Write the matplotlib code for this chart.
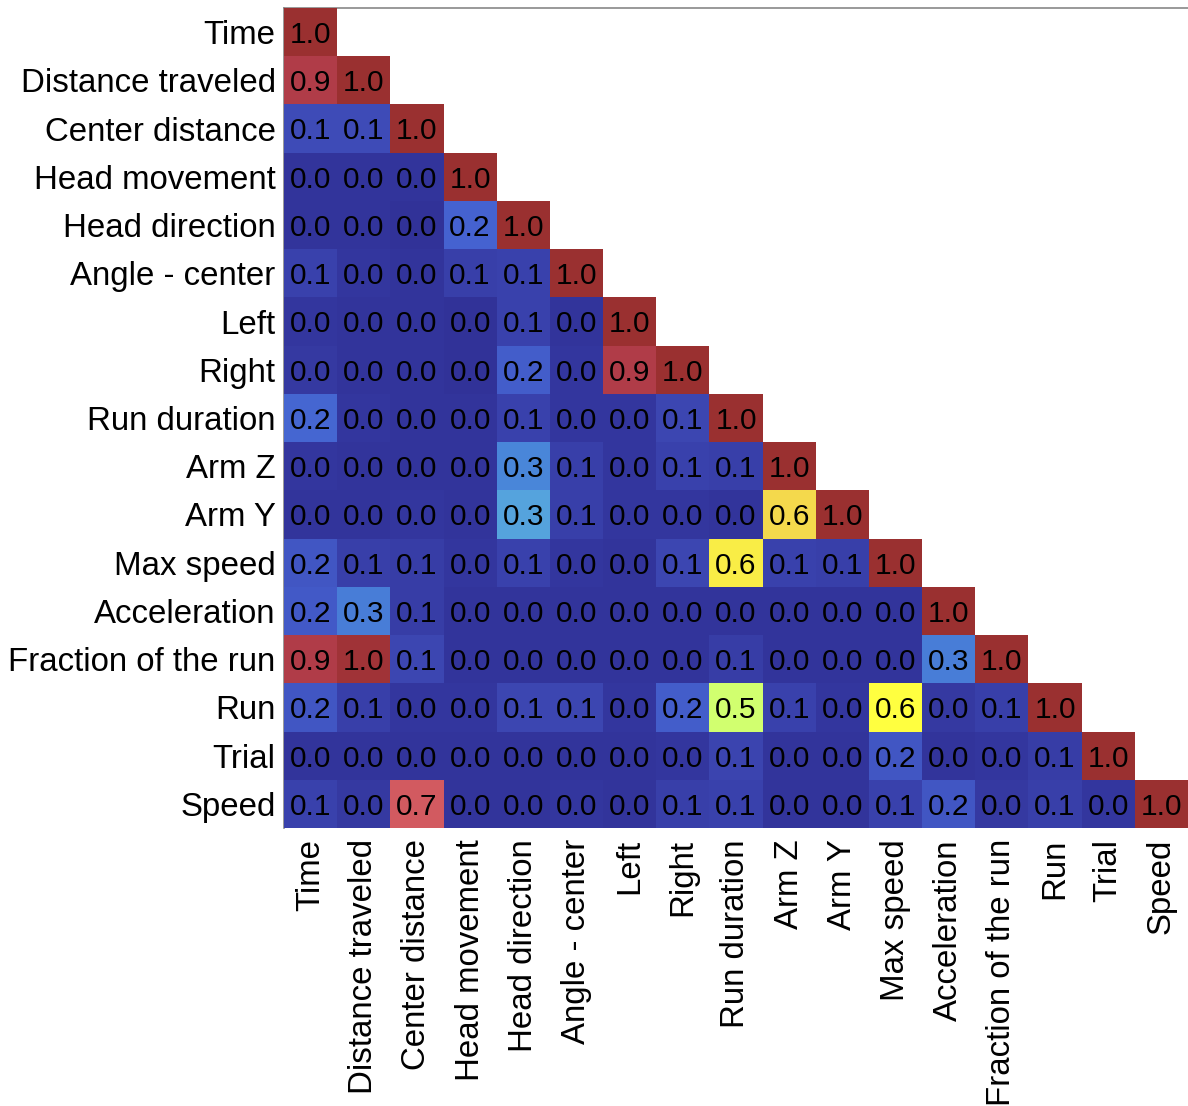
import numpy as np
import matplotlib
matplotlib.use("Agg")
import matplotlib.pyplot as plt
from matplotlib.colors import LinearSegmentedColormap

plt.rcParams['font.family'] = ['Liberation Sans', 'DejaVu Sans']

labels = ["Time", "Distance traveled", "Center distance", "Head movement",
          "Head direction", "Angle - center", "Left", "Right", "Run duration",
          "Arm Z", "Arm Y", "Max speed", "Acceleration", "Fraction of the run",
          "Run", "Trial", "Speed"]

# lower triangle, row by row (diagonal is 1.0)
r_dist = [0.90]
r_center = [0.12, 0.12]
r_headmov = [0.02, 0.02, 0.02]
r_headdir = [0.02, 0.02, 0.01, 0.20]
r_angle = [0.08, 0.03, 0.02, 0.07, 0.08]
r_left = [0.03, 0.02, 0.02, 0.01, 0.08, 0.02]
r_right = [0.04, 0.02, 0.02, 0.01, 0.18, 0.03, 0.90]
r_rundur = [0.21, 0.03, 0.02, 0.02, 0.08, 0.03, 0.03, 0.10]
r_armz = [0.03, 0.02, 0.02, 0.02, 0.28, 0.07, 0.03, 0.08, 0.07]
r_army = [0.02, 0.02, 0.03, 0.02, 0.33, 0.07, 0.03, 0.03, 0.02, 0.64]
r_maxspd = [0.16, 0.07, 0.06, 0.03, 0.08, 0.03, 0.02, 0.10, 0.61, 0.08, 0.07]
r_accel = [0.17, 0.26, 0.06, 0.02, 0.02, 0.02, 0.02, 0.02, 0.02, 0.02, 0.02, 0.02]
r_frac = [0.90, 0.97, 0.10, 0.02, 0.02, 0.02, 0.02, 0.02, 0.06, 0.02, 0.02, 0.02, 0.26]
r_run = [0.16, 0.07, 0.03, 0.03, 0.10, 0.10, 0.03, 0.18, 0.52, 0.08, 0.03, 0.58, 0.04, 0.07]
r_trial = [0.02, 0.02, 0.02, 0.02, 0.02, 0.02, 0.02, 0.03, 0.09, 0.02, 0.02, 0.16, 0.02, 0.03, 0.06]
r_speed = [0.08, 0.04, 0.72, 0.02, 0.02, 0.03, 0.02, 0.07, 0.08, 0.02, 0.02, 0.08, 0.16, 0.04, 0.07, 0.03]

rows = [[], r_dist, r_center, r_headmov, r_headdir, r_angle, r_left, r_right,
        r_rundur, r_armz, r_army, r_maxspd, r_accel, r_frac, r_run, r_trial, r_speed]

n = len(labels)
corr = np.full((n, n), np.nan)
for i in range(n):
    for j, v in enumerate(rows[i]):
        corr[i, j] = v
    corr[i, i] = 1.0
corr = np.ma.masked_invalid(corr)

cmap = LinearSegmentedColormap.from_list("corr", [
    (0.00, "#303096"),
    (0.10, "#3c46b2"),
    (0.20, "#4562d0"),
    (0.30, "#4a90dc"),
    (0.40, "#70d0e0"),
    (0.50, "#c0ff80"),
    (0.58, "#ffff40"),
    (0.62, "#f8e848"),
    (0.66, "#f0c850"),
    (0.72, "#d25a60"),
    (0.90, "#b03c48"),
    (1.00, "#9a3030"),
])

fig = plt.figure(figsize=(11.88, 11.06), dpi=100)
ax = fig.add_axes([284 / 1188, 1 - 828 / 1106, 1 - 284 / 1188, 820 / 1106])
ax.pcolormesh(np.arange(n + 1), np.arange(n + 1), corr, cmap=cmap, vmin=0, vmax=1)
ax.set_xlim(0, n)
ax.set_ylim(n, 0)

for i in range(n):
    for j in range(i + 1):
        ax.text(j + 0.5, i + 0.56, "%.1f" % corr[i, j], ha="center", va="center",
                fontsize=21.5, color="black")

ax.set_xticks(np.arange(n) + 0.5)
ax.set_yticks(np.arange(n) + 0.5)
ax.set_xticklabels(labels, rotation=90, fontsize=23.8)
ax.set_yticklabels(labels, fontsize=23.8)
ax.tick_params(length=0, pad=6)
ax.tick_params(axis="x", pad=8)

for side in ["right", "bottom"]:
    ax.spines[side].set_visible(False)
for side in ["top", "left"]:
    ax.spines[side].set_color("#888888")
    ax.spines[side].set_linewidth(1.2)
    ax.spines[side].set_zorder(0.5)

fig.savefig("out.png", dpi=100)
